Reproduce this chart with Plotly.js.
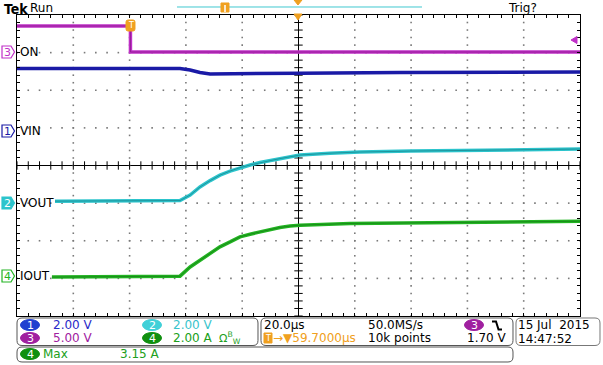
<!DOCTYPE html>
<html><head><meta charset="utf-8">
<script src="https://cdn.plot.ly/plotly-3.0.1.min.js"></script>
<style>html,body{margin:0;padding:0;background:#fff;}#chart{width:603px;height:365px;}</style>
</head><body><div id="chart"></div>
<script>
// ---- data (time in microseconds relative to screen centre) ----
const onTime   = [-100, -59.7, -59.7, 100];
const onVolts  = [3.46, 3.46, 0.0, 0.0];               // CH3, 5 V/div

const vinTime  = [-100, -60, -42.1, -38.5, -35.0, -31.4, -20.8, 0.5, 36, 100];
const vinVolts = [3.31, 3.30, 3.31, 3.23, 3.10, 3.02, 3.02, 3.06, 3.10, 3.12]; // CH1, 2 V/div

const voutTime  = [-86.5, -42.1, -38.5, -35.0, -31.4, -27.9, -24.3, -20.8, -17.2, -13.7, -10.1, -6.6, -3.0, 0.5, 11.2, 21.8, 39.9, 60.1, 80.0, 100];
const voutVolts = [0.09, 0.12, 0.41, 0.84, 1.18, 1.47, 1.69, 1.87, 2.01, 2.14, 2.24, 2.35, 2.46, 2.54, 2.64, 2.70, 2.75, 2.80, 2.83, 2.86]; // CH2, 2 V/div

const ioutTime = [-87.6, -42.1, -38.5, -35.0, -31.4, -27.9, -24.3, -20.8, -17.2, -13.7, -10.1, -6.6, -3.0, 0.5, 18.3, 39.9, 60.1, 80.0, 100];
const ioutAmps = [-0.05, 0.00, 0.49, 0.85, 1.22, 1.56, 1.82, 2.09, 2.23, 2.36, 2.48, 2.59, 2.66, 2.71, 2.80, 2.84, 2.87, 2.90, 2.92]; // CH4, 2 A/div

// channel settings: scale (units/div) and ground position (div)
const ch = {
  c1: {scale: 2, pos: 0.923},
  c2: {scale: 2, pos: -0.992},
  c3: {scale: 5, pos: 3.016},
  c4: {scale: 2, pos: -2.941}
};
const toDiv = (arr, c) => arr.map(v => v / c.scale + c.pos);

// ---- pixel helpers for decorations ----
const L = 17, R = 580, T = 15, B = 316;
const px = x => (x - L) / (R - L);
const py = y => (B - y) / (B - T);
const P = (x, y) => px(x).toFixed(5) + ',' + py(y).toFixed(5);
const poly = (pts) => pts.map((p, i) => (i ? 'L' : 'M') + P(p[0], p[1])).join('') + 'Z';
const line = (pts) => pts.map((p, i) => (i ? 'L' : 'M') + P(p[0], p[1])).join('');
function rrect(x0, y0, x1, y1, r) {
  return 'M' + P(x0 + r, y0) + 'L' + P(x1 - r, y0) + 'Q' + P(x1, y0) + ' ' + P(x1, y0 + r) +
    'L' + P(x1, y1 - r) + 'Q' + P(x1, y1) + ' ' + P(x1 - r, y1) +
    'L' + P(x0 + r, y1) + 'Q' + P(x0, y1) + ' ' + P(x0, y1 - r) +
    'L' + P(x0, y0 + r) + 'Q' + P(x0, y0) + ' ' + P(x0 + r, y0) + 'Z';
}

const MAG = '#c030c8', BLU = '#1a1aa6', CYA = '#2cc4cc', GRN = '#22b422', ORG = '#f0a020';

// graticule decoration: centre-line ticks and dotted grid
const tickX = [], tickY0 = [], tickY = [], tickX0 = [];
for (let i = -25; i <= 25; i++) { tickX.push(i * 4); tickY0.push(0); }
for (let i = -20; i <= 20; i++) { tickY.push(i * 0.2); tickX0.push(0); }
const dotX = [], dotY = [];
for (let g = -4; g <= 4; g++) { if (g === 0) continue; for (let j = -20; j <= 20; j++) { dotX.push(g * 20); dotY.push(j * 0.2); } }
for (let g = -3; g <= 3; g++) { if (g === 0) continue; for (let j = -25; j <= 25; j++) { dotX.push(j * 4); dotY.push(g); } }

const traces = [
  {x: dotX, y: dotY, mode: 'markers', marker: {symbol: 'square', size: 1.6, color: '#7a7a7a', line: {width: 0}}, hoverinfo: 'skip'},
  {x: tickX, y: tickY0, mode: 'markers', marker: {symbol: 'line-ns', size: 6, line: {width: 1, color: '#000'}}, hoverinfo: 'skip'},
  {x: tickX0, y: tickY, mode: 'markers', marker: {symbol: 'line-ew', size: 6, line: {width: 1, color: '#000'}}, hoverinfo: 'skip'},
  {x: onTime, y: toDiv(onVolts, ch.c3), mode: 'lines', line: {color: MAG, width: 3.5}},
  {x: onTime, y: toDiv(onVolts, ch.c3), mode: 'lines', line: {color: '#8a1a8a', width: 0.8}},
  {x: vinTime, y: toDiv(vinVolts, ch.c1), mode: 'lines', line: {color: BLU, width: 3.5}},
  {x: voutTime, y: toDiv(voutVolts, ch.c2), mode: 'lines', line: {color: CYA, width: 3.5}},
  {x: voutTime, y: toDiv(voutVolts, ch.c2), mode: 'lines', line: {color: '#1a8890', width: 0.8}},
  {x: ioutTime, y: toDiv(ioutAmps, ch.c4), mode: 'lines', line: {color: GRN, width: 3.5}},
  {x: ioutTime, y: toDiv(ioutAmps, ch.c4), mode: 'lines', line: {color: '#178017', width: 0.8}}
];

const F = 'DejaVu Sans, Verdana, sans-serif';
const ann = [];
function txt(text, x, y, color, size, anchor, extra) {
  ann.push(Object.assign({text: text, xref: 'paper', yref: 'paper', x: px(x), y: py(y),
    xanchor: anchor || 'left', yanchor: 'middle', showarrow: false,
    font: {family: F, size: size || 12, color: color || '#000'}, borderpad: 0}, extra || {}));
}
const shapes = [];
function shp(path, fill, color, w) {
  shapes.push({type: 'path', xref: 'paper', yref: 'paper', path: path, fillcolor: fill || 'rgba(0,0,0,0)',
    line: {color: color || 'rgba(0,0,0,0)', width: w === undefined ? 1 : w}, layer: 'above'});
}
function badge(cx, cy, num, color) {
  shapes.push({type: 'circle', xref: 'paper', yref: 'paper', x0: px(cx - 9.5), x1: px(cx + 9.5),
    y0: py(cy + 5.5), y1: py(cy - 5.5), fillcolor: color, line: {color: color, width: 1}});
  txt(num, cx, cy, '#fff', 11, 'center');
}
function chanMarker(cy, num, color, filled) {
  shp(poly([[2, cy - 6], [11, cy - 6], [14.5, cy], [11, cy + 6], [2, cy + 6]]), filled ? color : '#fff', color, 1.2);
  txt(num, 7, cy, filled ? '#fff' : color, 11, 'center');
}

// header
txt('<b>Tek</b>', 3, 9, '#000', 14, 'left', {font: {family: 'DejaVu Sans Condensed, DejaVu Sans, sans-serif', size: 14, color: '#000'}});
txt('Run', 29, 8, '#000', 12);
txt('Trig?', 507, 8, '#000', 12);
shp(line([[177, 7], [422, 7]]), null, '#40c8d0', 1);
shp(poly([[221, 3], [229, 3], [229, 12], [221, 12]]), ORG, ORG, 1);
shp(line([[225, 5], [225, 12]]), null, '#fff', 1.5);
shp(poly([[294, 0], [302, 0], [298, 5]]), ORG, ORG, 1);
shp(poly([[294, 14], [302, 14], [298, 20]]), ORG, ORG, 1);
// trigger point marker and trigger level
shp(rrect(126, 20, 135, 31, 2), ORG, ORG, 1);
txt('T', 130.5, 25.5, '#fff', 8, 'center');
shp(poly([[571, 40], [577, 36.5], [577, 43.5]]), MAG, MAG, 1);

// channel markers + labels
chanMarker(52, '3', MAG, false);  txt('ON', 19, 52, '#000', 12);
chanMarker(131, '1', BLU, false); txt('VIN', 19, 131, '#000', 12);
chanMarker(203, '2', CYA, true);  txt('VOUT', 19, 203, '#000', 12);
chanMarker(276, '4', GRN, false); txt('IOUT', 19, 276, '#000', 12);

// bottom boxes
shp(rrect(17, 318, 258, 345.5, 5), null, '#555', 1);
shp(rrect(261, 318, 513, 345.5, 5), null, '#555', 1);
shp(rrect(17, 347, 513, 362, 5), null, '#555', 1);
shp(rrect(516, 318, 600, 345.5, 5), null, '#777', 1);

badge(30, 325, '1', '#2040d0'); txt('2.00 V', 52, 325, '#2a2ac8', 12);
badge(152, 325, '2', '#40d0d8'); txt('2.00 V', 172, 325, '#38c4cc', 12);
badge(30, 338, '3', '#a020a0'); txt('5.00 V', 52, 338, '#a020a0', 12);
badge(152, 338, '4', '#109010'); txt('2.00 A', 172, 338, '#20a020', 12);
txt('Ω<sup>B</sup><sub>W</sub>', 218, 338, '#20a020', 11);
badge(30, 354, '4', '#109010'); txt('Max', 42, 354, '#20a020', 12); txt('3.15 A', 119, 354, '#20a020', 12);

txt('20.0µs', 263, 325, '#000', 12);
shp(poly([[264, 333], [272, 333], [272, 343], [264, 343]]), ORG, ORG, 1);
txt('T', 268, 338, '#fff', 8, 'center');
txt('→▼59.7000µs', 272, 338, ORG, 12);
txt('50.0MS/s', 367, 325, '#000', 12);
txt('10k points', 367, 338, '#000', 12);
badge(474, 325, '3', '#a020a0');
shp(line([[492, 321.5], [496, 321.5], [498.5, 329.5], [502, 329.5]]), null, '#000', 2);
txt('1.70 V', 508, 338, '#000', 12, 'right');
txt('15 Jul\u00a0\u00a02015', 517, 325, '#000', 12);
txt('14:47:52', 517, 339, '#000', 12);

const layout = {
  width: 603, height: 365,
  margin: {l: 17, r: 23, t: 15, b: 49, pad: 0},
  paper_bgcolor: '#fff', plot_bgcolor: '#fff',
  showlegend: false,
  xaxis: {range: [-100, 100], dtick: 20, tick0: 0, showticklabels: false,
    showgrid: false,
    zeroline: true, zerolinecolor: '#000', zerolinewidth: 1,
    showline: true, linecolor: '#000', linewidth: 1, mirror: 'ticks',
    ticks: 'inside', ticklen: 3, tickcolor: '#000', tickwidth: 1,
    minor: {dtick: 4, ticks: 'inside', ticklen: 3, tickcolor: '#000', tickwidth: 1, showgrid: false},
    fixedrange: true},
  yaxis: {range: [-4, 4], dtick: 1, tick0: 0, showticklabels: false,
    showgrid: false,
    zeroline: true, zerolinecolor: '#000', zerolinewidth: 1,
    showline: true, linecolor: '#000', linewidth: 1, mirror: 'ticks',
    ticks: 'inside', ticklen: 3, tickcolor: '#000', tickwidth: 1,
    minor: {dtick: 0.2, ticks: 'inside', ticklen: 3, tickcolor: '#000', tickwidth: 1, showgrid: false},
    fixedrange: true},
  annotations: ann,
  shapes: shapes
};
Plotly.newPlot('chart', traces, layout, {staticPlot: true, displayModeBar: false});
</script></body></html>
